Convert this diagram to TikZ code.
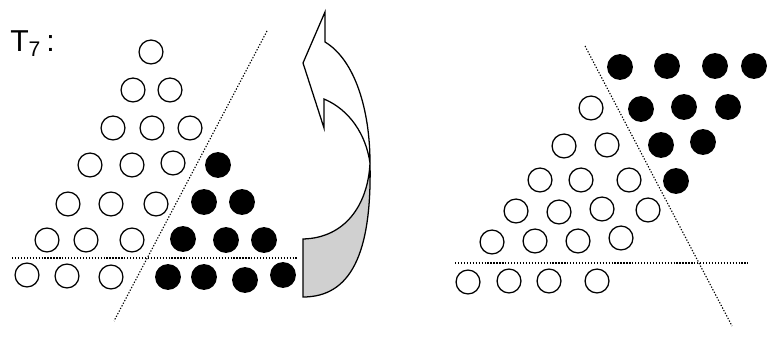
\documentclass[tikz,border=0pt]{standalone}
\usepackage{fontspec}
\setmainfont{Liberation Sans}
\definecolor{ribbongray}{HTML}{D0D0D0}

\begin{document}
\begin{tikzpicture}[x=0.025cm, y=-0.025cm,
    hollow/.style={draw=black, line width=0.9pt},
    blackdot/.style={fill=black},
    cutline/.style={draw=black, dash pattern=on 0.9pt off 1.2pt, line width=0.8pt},
    ribbon/.style={draw=black, line width=0.9pt, line join=miter},
    lbl/.style={font=\fontsize{21.5}{24}\selectfont, inner sep=0pt},
  ]
  \useasboundingbox (0,0) rectangle (780,339);

  % ---- left: the triangle T_7, cut into two parts
  \node[lbl, anchor=base west] (tlabel) at (10,52) {T\textsubscript{7}\,:};
  \foreach \x/\y in {151/52, 133/90,170/90, 113/128,152/128,190/128,
                     90/165,132/165,173/163, 68/204,111/204,156/204,
                     47/240,86/240,132/240, 27/275,67/276,111/277}
    \draw[hollow] (\x,\y) circle[radius=8.5pt];
  \foreach \x/\y in {218/165, 204/202,242/202, 183/239,226/240,264/240,
                     168/277,204/277,245/280,283/275}
    \fill[blackdot] (\x,\y) circle[radius=9.2pt];
  \draw[cutline] (12,258) -- (298,258);
  \draw[cutline] (267,31) -- (114,321);

  % ---- the twisted arrow: bottom row goes up
  \coordinate (tip) at (325,12);
  \coordinate (barbl) at (303,63);
  \coordinate (barbr) at (324,128);
  \coordinate (notchin) at (324,99);
  \coordinate (notchout) at (325,42);
  \coordinate (twist) at (370,163);
  \coordinate (foottop) at (303,239);
  \coordinate (footbot) at (303,297);
  \filldraw[ribbon, fill=ribbongray] (twist) .. controls (368,205) and (345,238) .. (foottop)
    -- (footbot) .. controls (350,297) and (372,255) .. (twist);
  \draw[ribbon] (notchin) .. controls (350,110) and (366,135) .. (twist)
    .. controls (370,110) and (355,60) .. (notchout) -- (tip) -- (barbl) -- (barbr) -- cycle;

  % ---- right: the parts put back together
  \foreach \x/\y in {591/108, 564/146,607/145, 540/180,581/180,629/180,
                     516/211,559/212,602/209,648/210, 492/242,535/241,578/241,621/238,
                     468/282,509/281,549/281,597/281}
    \draw[hollow] (\x,\y) circle[radius=8.5pt];
  \foreach \x/\y in {620/67,667/66,715/66,754/66, 641/109,684/107,728/107,
                     661/145,703/142, 676/181}
    \fill[blackdot] (\x,\y) circle[radius=9.2pt];
  \draw[cutline] (455,263) -- (748,263);
  \draw[cutline] (585,46) -- (732,326);
\end{tikzpicture}
\end{document}
